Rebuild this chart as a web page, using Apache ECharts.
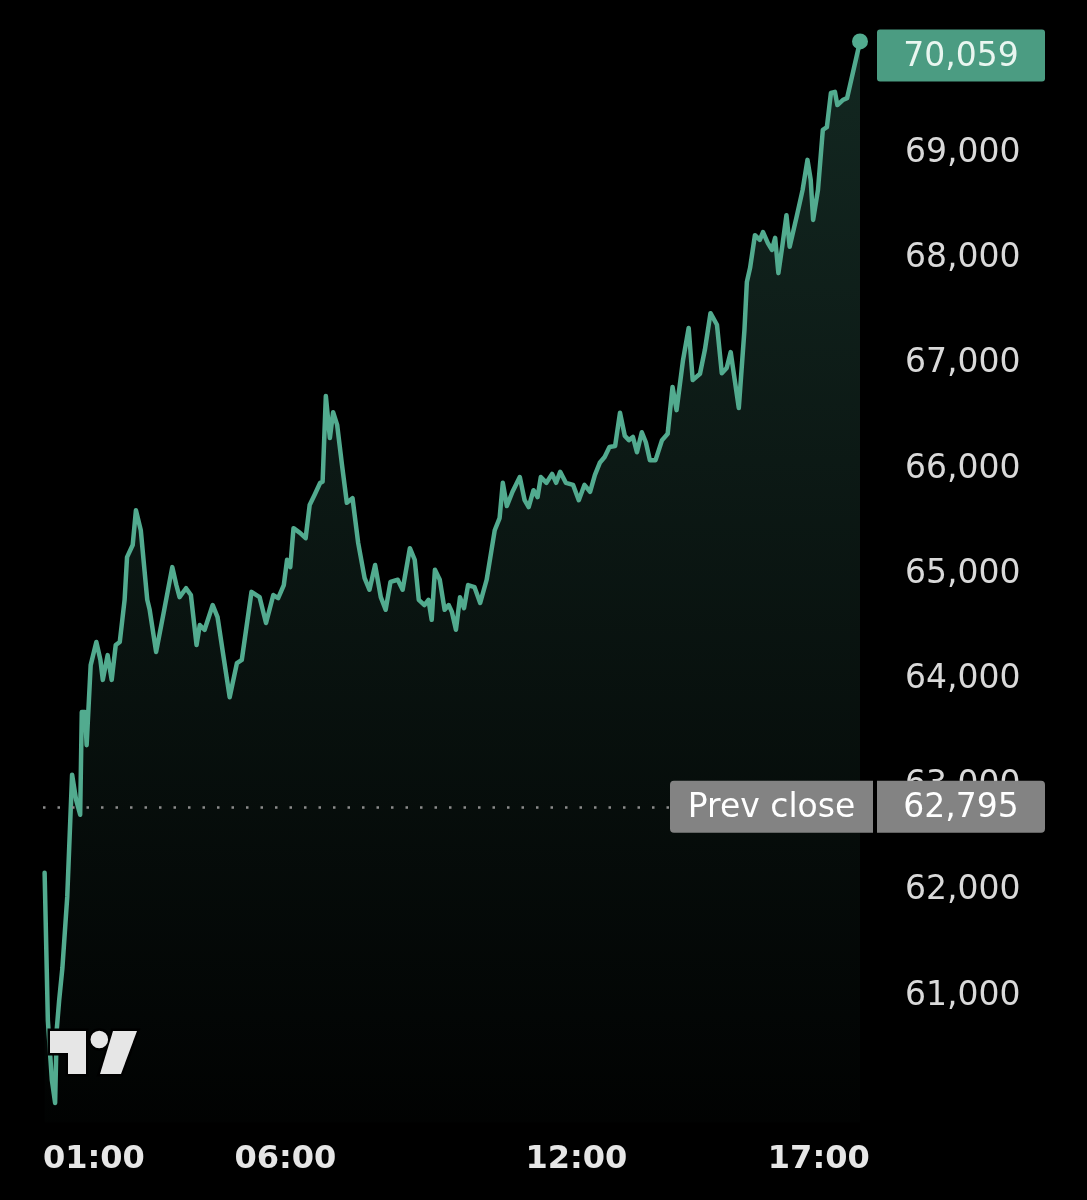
<!DOCTYPE html>
<html>
<head>
<meta charset="utf-8">
<script src="https://cdn.jsdelivr.net/npm/echarts@6/dist/echarts.min.js"></script>
<style>
html,body{margin:0;padding:0;background:#000;}
#chart{width:1087px;height:1200px;}
</style>
</head>
<body>
<div id="chart"></div>
<script>
// time of each point, minutes after midnight
const times = [62,66,71,75,77,80,84,90,96,101,106,108,112,114,119,126,131,134,140,145,150,155,161,164,171,175,181,189,192,200,210,220,225,229,237,243,250,254,260,270,276,284,291,300,306,318,328,336,345,351,358,362,366,370,378,385,390,396,403,406,410,415,419,424,430,436,443,450,458,464,471,478,484,490,499,505,514,520,525,532,537,541,545,551,557,562,566,571,576,581,586,594,601,609,619,625,629,634,641,650,656,661,667,672,676,683,690,695,700,707,716,723,730,737,743,749,755,761,768,774,780,785,790,795,801,806,811,818,826,833,839,844,852,859,864,873,879,886,894,900,906,911,921,928,931,935,941,947,951,957,962,966,970,975,980,984,993,1000,1006,1010,1013,1019,1025,1030,1035,1040,1043,1050,1055,1071];
// price at each point
const prices = [62170,60770,60200,59985,60680,60960,61265,61940,63100,62860,62720,63695,63695,63380,64140,64360,64190,64000,64235,64000,64330,64360,64760,65165,65280,65610,65420,64760,64665,64265,64665,65070,64900,64785,64870,64805,64330,64520,64475,64710,64595,64190,63835,64160,64190,64835,64785,64540,64805,64775,64900,65140,65070,65440,65395,65345,65660,65755,65870,65880,66695,66295,66540,66420,66040,65680,65725,65300,64965,64855,65090,64785,64665,64930,64950,64855,65250,65140,64760,64710,64760,64570,65045,64950,64665,64710,64645,64475,64785,64680,64900,64880,64730,64950,65420,65535,65870,65650,65785,65925,65705,65640,65800,65735,65925,65870,65955,65870,65975,65870,65850,65705,65850,65785,65945,66060,66115,66210,66220,66535,66315,66275,66305,66160,66350,66255,66085,66085,66275,66335,66780,66560,67035,67340,66845,66905,67130,67480,67370,66910,66960,67110,66580,67320,67775,67910,68220,68175,68250,68145,68080,68195,67860,68125,68410,68110,68410,68650,68935,68745,68365,68650,69220,69245,69570,69580,69455,69505,69520,70059];
const xTickMinutes = [60, 360, 720, 1020];
const yTickValues = [61000, 62000, 63000, 64000, 65000, 66000, 67000, 68000, 69000];
const prevClose = 62795;
const prevCloseLabel = 'Prev close';

const fmtNum = v => Number(v).toLocaleString('en-US');
const fmtTime = m => String(Math.floor(m / 60)).padStart(2, '0') + ':' + String(m % 60).padStart(2, '0');

const seriesData = times.map((t, i) => [t, prices[i]]);
const lastIdx = prices.length - 1;
const lastPrice = prices[lastIdx];

const GREEN = '#52ab8f';
const chart = echarts.init(document.getElementById('chart'), null, {renderer: 'canvas'});

const logoFill = '#e6e6e6';
const logoShapes = [
  {type: 'polygon', shape: {points: [[50,1031],[86,1031],[86,1074],[68,1074],[68,1053],[50,1053]]}},
  {type: 'circle', shape: {cx: 99.3, cy: 1039.5, r: 8.8}},
  {type: 'polygon', shape: {points: [[113,1031],[137,1031],[121,1074],[100,1074]]}}
];
const graphics = [];
logoShapes.forEach(s => graphics.push(Object.assign({}, s, {z: 100, silent: true, style: {fill: '#000', stroke: '#000', lineWidth: 5}})));
logoShapes.forEach(s => graphics.push(Object.assign({}, s, {z: 101, silent: true, style: {fill: logoFill}})));

chart.setOption({
  backgroundColor: '#000',
  animation: false,
  grid: {left: 43, right: 227, top: 26.55, bottom: 77.55, containLabel: false, outerBoundsMode: 'none'},
  xAxis: {
    type: 'value',
    min: 60,
    max: 1071,
    axisLine: {show: false},
    axisTick: {show: false},
    splitLine: {show: false},
    axisLabel: {
      customValues: xTickMinutes,
      formatter: v => fmtTime(v),
      color: '#e6e6e6',
      fontFamily: 'DejaVu Sans',
      fontWeight: 'bold',
      fontSize: 32,
      margin: 21,
      alignMinLabel: 'left'
    }
  },
  yAxis: {
    type: 'value',
    position: 'right',
    min: 59800,
    max: 70200,
    axisLine: {show: false},
    axisTick: {show: false},
    splitLine: {show: false},
    axisLabel: {
      customValues: yTickValues,
      formatter: v => fmtNum(v),
      color: '#d9d9d9',
      fontFamily: 'DejaVu Sans',
      fontSize: 33,
      margin: 45,
      align: 'left'
    }
  },
  graphic: graphics,
  series: [{
    type: 'line',
    data: seriesData,
    showSymbol: false,
    symbol: 'none',
    smooth: false,
    lineStyle: {color: GREEN, width: 4.5, join: 'round', cap: 'round'},
    areaStyle: {
      origin: 'start',
      color: new echarts.graphic.LinearGradient(0, 0, 0, 1, [
        {offset: 0, color: 'rgba(82,171,143,0.33)'},
        {offset: 1, color: 'rgba(82,171,143,0.02)'}
      ])
    },
    markPoint: {
      silent: true,
      animation: false,
      data: [{
        coord: [times[lastIdx], lastPrice],
        symbol: 'circle',
        symbolSize: 16,
        itemStyle: {color: GREEN},
        label: {show: false}
      }]
    },
    markLine: {
      silent: true,
      animation: false,
      symbol: 'none',
      data: [
        {
          yAxis: prevClose,
          lineStyle: {type: [2.5, 12], color: '#8c8c8c', width: 2.5, cap: 'butt'},
          label: {
            show: true,
            position: 'end',
            distance: -190,
            formatter: '{p|' + prevCloseLabel + '}{s|}{v|' + fmtNum(prevClose) + '}',
            rich: {
              p: {backgroundColor: '#838383', color: '#ffffff', fontFamily: 'DejaVu Sans', fontSize: 33, width: 203, height: 48, lineHeight: 48, align: 'center', borderRadius: [4, 0, 0, 4], padding: [4, 0, 0, 0]},
              s: {width: 4, height: 48},
              v: {backgroundColor: '#838383', color: '#ffffff', fontFamily: 'DejaVu Sans', fontSize: 33, width: 168, height: 48, lineHeight: 48, align: 'center', borderRadius: [0, 4, 4, 0], padding: [4, 0, 0, 0]}
            }
          }
        },
        {
          yAxis: lastPrice,
          lineStyle: {color: 'rgba(0,0,0,0)', width: 1},
          label: {
            show: true,
            position: 'end',
            distance: 17,
            formatter: '{sp| }\n{t|' + fmtNum(lastPrice) + '}',
            rich: {
              sp: {width: 168, height: 28, lineHeight: 28, fontSize: 10, color: 'rgba(0,0,0,0)'},
              t: {backgroundColor: '#4b9c82', color: '#e9f6f0', fontFamily: 'DejaVu Sans', fontSize: 33, width: 168, height: 48, lineHeight: 48, align: 'center', borderRadius: 3, padding: [4, 0, 0, 0]}
            }
          }
        }
      ]
    }
  }]
});
</script>
</body>
</html>
